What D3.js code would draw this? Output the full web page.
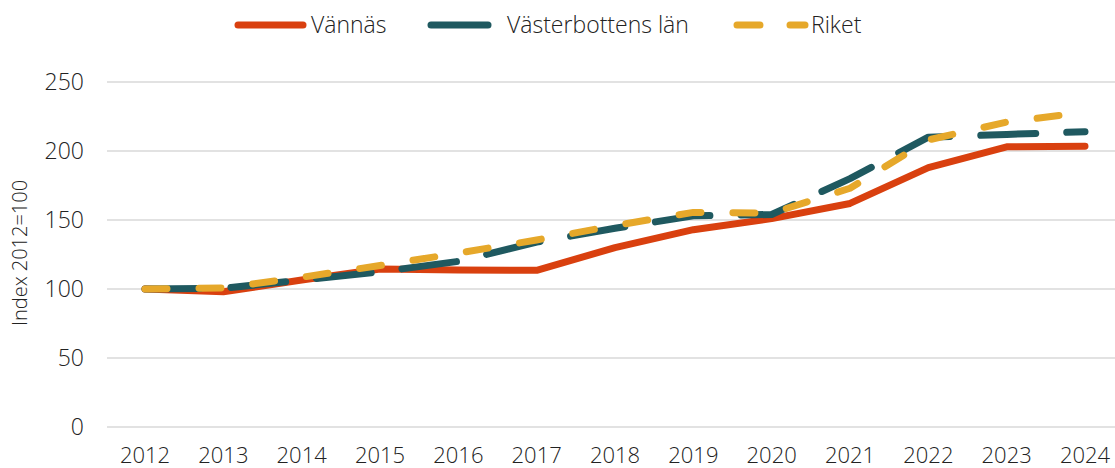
<!DOCTYPE html>
<html>
<head>
<meta charset="utf-8">
<script src="https://cdn.jsdelivr.net/npm/d3@7"></script>
<style>
  body { margin: 0; background: #fff; }
  text { font-family: "Open Sans", "DejaVu Sans", sans-serif; font-weight: 300; fill: #222; }
</style>
</head>
<body>
<svg id="chart" width="1115" height="468"></svg>
<script>
// data
let years = ["2012","2013","2014","2015","2016","2017","2018","2019","2020","2021","2022","2023","2024"];
let vannas = [100, 98, 106.5, 114.5, 113.8, 113.5, 130, 143, 151, 162, 188, 203, 203.5];
let vasterbotten = [100, 100.5, 106.5, 112.5, 120, 134, 144, 153, 154, 180, 210, 212, 214];
let riket = [100, 100.8, 108.5, 117, 126, 135.5, 146, 155.5, 155, 173, 208, 221, 228];
let yTicks = [0, 50, 100, 150, 200, 250];

let svg = d3.select("#chart"),
    width = +svg.attr("width"),
    height = +svg.attr("height");

let x = d3.scalePoint().domain(years).range([145, 1085]);
let y = d3.scaleLinear().domain([0, 250]).range([427, 82]);

// gridlines
svg.append("g").selectAll("line")
  .data(yTicks)
  .enter().append("line")
    .attr("x1", 107).attr("x2", width)
    .attr("y1", d => y(d)).attr("y2", d => y(d))
    .attr("stroke", "#d9d9d9").attr("stroke-width", 1.5);

// y tick labels
svg.append("g").selectAll("text")
  .data(yTicks)
  .enter().append("text")
    .attr("x", 84).attr("y", d => y(d) + 8)
    .attr("text-anchor", "end")
    .style("font-size", "23px")
    .text(d => d);

// x tick labels
svg.append("g").selectAll("text")
  .data(years)
  .enter().append("text")
    .attr("x", d => x(d)).attr("y", 463)
    .attr("text-anchor", "middle")
    .style("font-size", "22px")
    .text(d => d);

// y axis title
svg.append("text")
  .attr("transform", "translate(27,253) rotate(-90)")
  .attr("text-anchor", "middle")
  .style("font-size", "20px")
  .text("Index 2012=100");

let series = [
  {name: "Vännäs", values: vannas, color: "#d9400f", dash: null},
  {name: "Västerbottens län", values: vasterbotten, color: "#1f5960", dash: "55,31"},
  {name: "Riket", values: riket, color: "#e6a82a", dash: "22,32"}
];

let line = d3.line()
  .x((d, i) => x(years[i]))
  .y(d => y(d));

svg.append("g").selectAll("path")
  .data(series)
  .enter().append("path")
    .attr("d", d => line(d.values))
    .attr("fill", "none")
    .attr("stroke", d => d.color)
    .attr("stroke-width", 7)
    .attr("stroke-linecap", "round")
    .attr("stroke-linejoin", "round")
    .attr("stroke-dasharray", d => d.dash);

// legend
let legendPos = [
  {x1: 238, x2: 303, tx: 311},
  {x1: 431, x2: 488, tx: 507},
  {x1: 737, x2: 805, tx: 811}
];
let legend = svg.append("g").selectAll("g")
  .data(series)
  .enter().append("g");

legend.append("line")
  .attr("x1", (d, i) => legendPos[i].x1).attr("x2", (d, i) => legendPos[i].x2)
  .attr("y1", 25).attr("y2", 25)
  .attr("stroke", d => d.color)
  .attr("stroke-width", 7)
  .attr("stroke-linecap", "round")
  .attr("stroke-dasharray", (d, i) => i === 2 ? "23,30" : null);

legend.append("text")
  .attr("x", (d, i) => legendPos[i].tx).attr("y", 33)
  .style("font-size", "23px")
  .text(d => d.name);
</script>
</body>
</html>
